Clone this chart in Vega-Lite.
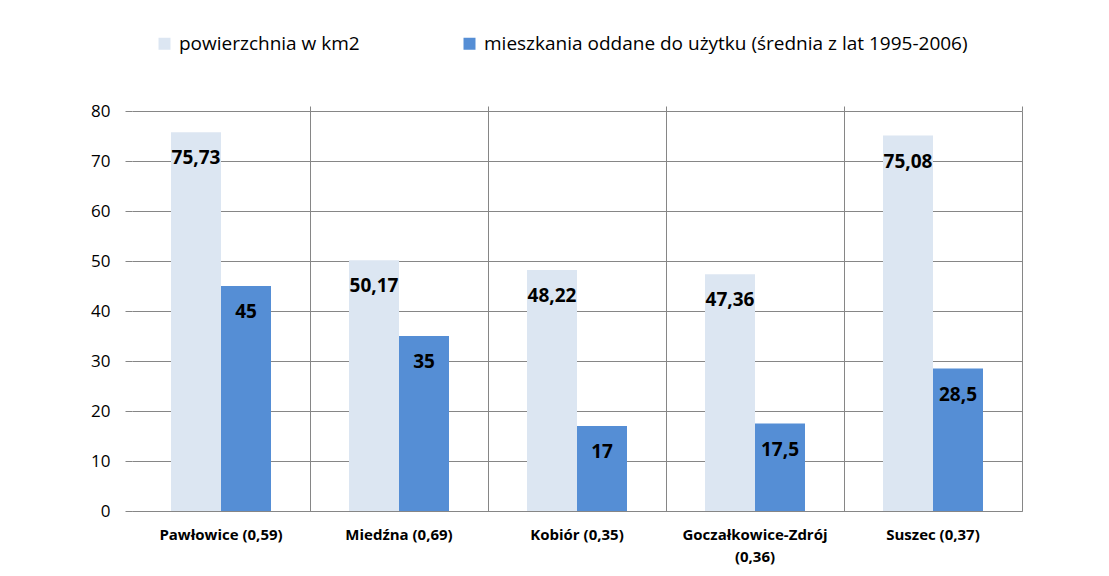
{
  "$schema": "https://vega.github.io/schema/vega-lite/v6.json",
  "autosize": "none",
  "padding": {"left": 132, "top": 111, "right": 87, "bottom": 65},
  "width": 890,
  "height": 400,
  "background": "white",
  "config": {
    "font": "Open Sans",
    "view": {"stroke": null},
    "locale": {"number": {"decimal": ",", "thousands": " ", "grouping": [3], "currency": ["", " zł"]}}
  },
  "data": {
    "values": [
      {"gmina": "Pawłowice (0,59)", "seria": "powierzchnia w km2", "wartosc": 75.73},
      {"gmina": "Pawłowice (0,59)", "seria": "mieszkania oddane do użytku (średnia  z lat 1995-2006)", "wartosc": 45},
      {"gmina": "Miedźna (0,69)", "seria": "powierzchnia w km2", "wartosc": 50.17},
      {"gmina": "Miedźna (0,69)", "seria": "mieszkania oddane do użytku (średnia  z lat 1995-2006)", "wartosc": 35},
      {"gmina": "Kobiór (0,35)", "seria": "powierzchnia w km2", "wartosc": 48.22},
      {"gmina": "Kobiór (0,35)", "seria": "mieszkania oddane do użytku (średnia  z lat 1995-2006)", "wartosc": 17},
      {"gmina": "Goczałkowice-Zdrój (0,36)", "seria": "powierzchnia w km2", "wartosc": 47.36},
      {"gmina": "Goczałkowice-Zdrój (0,36)", "seria": "mieszkania oddane do użytku (średnia  z lat 1995-2006)", "wartosc": 17.5},
      {"gmina": "Suszec (0,37)", "seria": "powierzchnia w km2", "wartosc": 75.08},
      {"gmina": "Suszec (0,37)", "seria": "mieszkania oddane do użytku (średnia  z lat 1995-2006)", "wartosc": 28.5}
    ]
  },
  "encoding": {
    "x": {"field": "gmina", "type": "nominal", "sort": null,
      "scale": {"paddingInner": 0, "paddingOuter": 0}},
    "xOffset": {"field": "seria", "type": "nominal", "sort": null,
      "scale": {"paddingInner": 0, "paddingOuter": 0.78}},
    "y": {"field": "wartosc", "type": "quantitative",
      "scale": {"domain": [0, 80], "nice": false},
      "axis": {"title": null, "values": [0,10,20,30,40,50,60,70,80], "domain": false,
        "grid": true, "gridColor": "#868686", "gridWidth": 1,
        "ticks": true, "tickSize": 7, "tickColor": "#868686",
        "labelPadding": 15, "labelFontSize": 17, "labelColor": "#000000"}}
  },
  "layer": [
    {
      "mark": {"type": "bar"},
      "encoding": {
        "color": {"field": "seria", "type": "nominal", "sort": null,
          "scale": {"range": ["#dce6f2", "#558ed5"]},
          "legend": {"title": null, "orient": "none", "legendX": 23, "legendY": -77,
            "direction": "horizontal", "symbolType": "square", "symbolSize": 144,
            "symbolStrokeWidth": 0, "labelFontSize": 19, "labelColor": "#000000",
            "columnPadding": 100, "labelOffset": 5, "labelLimit": 700}},
        "x": {"field": "gmina", "type": "nominal", "sort": null,
          "axis": {"title": null, "labelAngle": 0, "grid": false, "ticks": false,
            "domain": true, "domainColor": "#868686", "domainWidth": 1,
            "labelFontSize": 15, "labelFontWeight": "bold", "labelColor": "#000000",
            "labelPadding": 16, "labelLineHeight": 22, "labelLimit": 300,
            "labelExpr": "datum.label == 'Goczałkowice-Zdrój (0,36)' ? ['Goczałkowice-Zdrój', '(0,36)'] : datum.label"}}
      }
    },
    {
      "mark": {"type": "text", "baseline": "middle", "dy": 26, "fontSize": 19, "fontWeight": "bold", "color": "#000000"},
      "encoding": {
        "text": {"field": "wartosc", "type": "quantitative", "format": "~g"},
        "x": {"field": "gmina", "type": "nominal", "sort": null,
          "axis": {"title": null, "labels": false, "domain": false, "grid": true,
            "gridColor": "#868686", "gridWidth": 1, "bandPosition": 1,
            "ticks": true, "tickSize": 5, "tickColor": "#868686"}}
      }
    }
  ],
  "resolve": {"axis": {"x": "independent"}}
}
